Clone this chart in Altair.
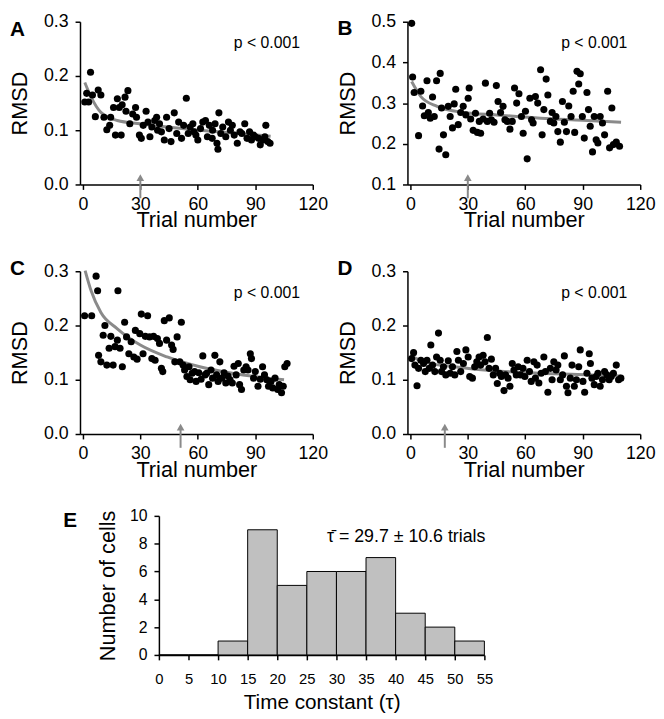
import altair as alt
import pandas as pd

FONT = "Liberation Sans"

# ---------------- Panel A ----------------
a_x = [1, 2, 3, 4, 5, 6.5, 8, 9.4, 11, 12.5, 14, 14.5, 16, 17, 18, 19, 20, 20.5, 22, 22.5,
       23.5, 24.5, 26, 27.5, 28, 29.5, 30.5, 31.5, 33, 34, 35, 36, 37.5, 38.5, 40, 41, 42.5,
       43.7, 45, 46, 47.7, 49, 50, 51.5, 52.6, 54, 55, 56, 57.4, 59, 60, 61.4, 62.6, 64, 65,
       66, 67.7, 69, 70, 70.5, 71, 72, 73, 74.6, 76, 77, 78, 79, 80.6, 82, 83, 84.5, 85.7, 87,
       88, 89, 90, 91.7, 92.6, 94, 95, 95.5, 96.5, 97.7, 67.5, 39, 58]
a_y = [0.152, 0.168, 0.152, 0.207, 0.165, 0.125, 0.174, 0.165, 0.124, 0.101, 0.109, 0.124,
       0.142, 0.091, 0.158, 0.142, 0.091, 0.147, 0.161, 0.135, 0.173, 0.112, 0.130, 0.142,
       0.124, 0.091, 0.085, 0.109, 0.135, 0.115, 0.088, 0.106, 0.118, 0.124, 0.112, 0.097,
       0.082, 0.124, 0.103, 0.079, 0.132, 0.094, 0.115, 0.085, 0.109, 0.159, 0.094, 0.106,
       0.112, 0.091, 0.082, 0.103, 0.115, 0.118, 0.088, 0.109, 0.100, 0.112, 0.076, 0.065,
       0.132, 0.094, 0.106, 0.088, 0.115, 0.100, 0.109, 0.091, 0.076, 0.097, 0.094, 0.112,
       0.085, 0.097, 0.082, 0.091, 0.088, 0.085, 0.073, 0.082, 0.088, 0.109, 0.079, 0.076,
       0.085, 0.100, 0.097]
a_cx = [1, 4.3, 9.4, 18, 30, 44, 61, 78, 98]
a_cy = [0.188, 0.161, 0.133, 0.118, 0.112, 0.106, 0.100, 0.095, 0.089]

# ---------------- Panel B ----------------
b_x = [0.7, 1.2, 2, 4.3, 5.5, 6.4, 7.3, 8.7, 9.4, 10.4, 11.6, 12.5, 13.7, 15, 15.6, 16.3,
       17.3, 18.5, 19.8, 20.8, 22, 22.9, 23.7, 25, 26.3, 27.6, 29, 30.2, 30.7, 31.5, 32.8,
       34, 35, 36, 36.7, 38, 39.2, 40.2, 41.4, 42.3, 43.7, 44.9, 45.8, 47.1, 48.4, 49.4,
       50.6, 52, 53.2, 54.4, 55.5, 56.7, 58, 58.9, 60.1, 61, 62.4, 63.3, 64.1, 65.3, 66.5,
       68, 68.8, 69.7, 70.9, 71.8, 73.1, 74, 74.9, 76, 77, 78.3, 79.4, 80.4, 81.5, 82.7,
       83.9, 85, 85.8, 87, 87.9, 88.7, 89.8, 90.8, 92.2, 93, 93.9, 95.1, 96, 97, 97.9, 99.1,
       100.3, 101.4, 103, 104, 105.2, 106, 107.5, 109.2]
b_y = [0.496, 0.364, 0.326, 0.220, 0.329, 0.293, 0.269, 0.355, 0.277, 0.263, 0.315, 0.267,
       0.355, 0.187, 0.373, 0.288, 0.222, 0.173, 0.292, 0.267, 0.239, 0.298, 0.334, 0.247,
       0.277, 0.292, 0.271, 0.312, 0.337, 0.261, 0.233, 0.275, 0.228, 0.255, 0.226, 0.261,
       0.349, 0.255, 0.275, 0.259, 0.253, 0.343, 0.304, 0.277, 0.292, 0.259, 0.255, 0.236,
       0.255, 0.337, 0.300, 0.323, 0.267, 0.226, 0.280, 0.163, 0.312, 0.259, 0.251, 0.316,
       0.300, 0.382, 0.222, 0.284, 0.359, 0.320, 0.255, 0.277, 0.251, 0.267, 0.230, 0.204,
       0.304, 0.253, 0.230, 0.293, 0.267, 0.329, 0.228, 0.378, 0.347, 0.372, 0.267, 0.214,
       0.326, 0.284, 0.243, 0.180, 0.267, 0.210, 0.202, 0.267, 0.251, 0.222, 0.329, 0.190,
       0.288, 0.198, 0.204, 0.194]
b_cx = [0.7, 5.5, 14, 28, 45, 68, 90, 110]
b_cy = [0.353, 0.316, 0.292, 0.277, 0.271, 0.263, 0.258, 0.253]

# ---------------- Panel C ----------------
c_x = [0.9, 4.6, 6.9, 7.7, 8.2, 9.4, 10.6, 11.5, 12.5, 13.7, 14.6, 15.8, 16.8, 18, 18.3,
       19.4, 20.6, 21.8, 22.8, 24, 25.2, 26.6, 27.4, 28.3, 29.7, 30.5, 31.4, 32.6, 33.8,
       34.8, 36, 36.9, 37.7, 38.9, 40, 41, 41.7, 42.5, 43.7, 45.1, 46.3, 47.1, 48, 49.2,
       51.4, 50.6, 52.3, 53.1, 54.3, 55.4, 56, 57, 58.3, 59.1, 60.5, 61.7, 62.6, 63.8, 64.6,
       65.7, 66.9, 67.7, 68.9, 69.8, 70.6, 71.5, 72.5, 73.7, 74.6, 75.8, 76.8, 78, 78.9, 80,
       81.1, 81.8, 82.8, 84, 85.2, 86.2, 87.4, 88, 89.1, 90, 91.4, 92.6, 93.8, 94.8, 96,
       96.9, 98.2, 99.1, 100.3, 101.7, 102.5, 103.7, 104.6, 105.4, 106.6]
c_y = [0.218, 0.218, 0.291, 0.264, 0.145, 0.133, 0.182, 0.200, 0.127, 0.158, 0.180, 0.127,
       0.161, 0.173, 0.264, 0.158, 0.124, 0.206, 0.179, 0.148, 0.170, 0.142, 0.191, 0.138,
       0.185, 0.221, 0.148, 0.180, 0.218, 0.179, 0.139, 0.180, 0.136, 0.176, 0.167, 0.121,
       0.115, 0.209, 0.173, 0.214, 0.164, 0.156, 0.133, 0.179, 0.206, 0.133, 0.127, 0.118,
       0.106, 0.124, 0.100, 0.112, 0.115, 0.097, 0.113, 0.101, 0.144, 0.109, 0.112, 0.091,
       0.118, 0.103, 0.145, 0.109, 0.097, 0.133, 0.103, 0.113, 0.094, 0.107, 0.100, 0.094,
       0.125, 0.109, 0.130, 0.091, 0.082, 0.118, 0.124, 0.118, 0.148, 0.139, 0.103, 0.115,
       0.088, 0.101, 0.124, 0.109, 0.100, 0.088, 0.097, 0.085, 0.103, 0.082, 0.091, 0.076,
       0.088, 0.124, 0.130]
c_cx = [1.2, 4.3, 9.4, 18, 30, 44, 61, 78, 105]
c_cy = [0.301, 0.264, 0.224, 0.194, 0.164, 0.142, 0.124, 0.112, 0.100]

# ---------------- Panel D ----------------
d_x = [0.7, 1.7, 2.4, 3.5, 4.3, 5.5, 6.9, 7.8, 8.7, 9.9, 10.7, 11.6, 12.8, 13.7, 14.7, 15.6,
       16.3, 17.3, 18.5, 19.8, 20.8, 22, 23.2, 24.3, 25.1, 26.3, 27.7, 29, 30.2, 31, 32.4,
       33.6, 34.7, 35.9, 36.7, 38, 39, 40.2, 41.1, 42.3, 43.3, 44.5, 45.4, 46.6, 47.5, 48.9,
       49.7, 51, 52, 53.2, 54.1, 55.3, 56.3, 57.5, 58.8, 59.8, 61, 62.2, 63.1, 64.5, 65.3,
       66.2, 67.1, 68.3, 69.7, 70.5, 71.8, 73.1, 74, 74.9, 76.1, 77, 78.3, 79.5, 80.4, 81.5,
       82.3, 83.5, 84.4, 85.6, 86.7, 87.9, 88.7, 90.1, 91, 92.2, 93.4, 94, 94.8, 96, 97,
       97.9, 99.1, 100.3, 101.4, 102.6, 103.8, 104.9, 106, 107.5, 108.7, 109.9]
d_y = [0.139, 0.150, 0.127, 0.089, 0.121, 0.136, 0.130, 0.115, 0.136, 0.121, 0.164, 0.127,
       0.115, 0.142, 0.186, 0.136, 0.115, 0.124, 0.109, 0.135, 0.112, 0.124, 0.109, 0.152,
       0.136, 0.115, 0.130, 0.155, 0.142, 0.106, 0.103, 0.124, 0.133, 0.142, 0.127, 0.145,
       0.133, 0.178, 0.121, 0.138, 0.109, 0.121, 0.093, 0.112, 0.106, 0.080, 0.109, 0.103,
       0.088, 0.130, 0.118, 0.109, 0.124, 0.109, 0.121, 0.106, 0.136, 0.115, 0.097, 0.133,
       0.103, 0.127, 0.094, 0.112, 0.142, 0.115, 0.077, 0.121, 0.100, 0.133, 0.118, 0.127,
       0.100, 0.109, 0.144, 0.088, 0.076, 0.103, 0.127, 0.088, 0.100, 0.124, 0.155, 0.097,
       0.077, 0.112, 0.148, 0.130, 0.103, 0.091, 0.106, 0.112, 0.088, 0.100, 0.115, 0.109,
       0.100, 0.106, 0.112, 0.127, 0.100, 0.103]
d_cx = [0, 7, 25, 42, 68, 94, 110]
d_cy = [0.145, 0.133, 0.123, 0.117, 0.112, 0.109, 0.107]

# ---------------- Panel E (histogram) ----------------
bin_start = [0, 5, 10, 15, 20, 25, 30, 35, 40, 45, 50]
bin_end = [5, 10, 15, 20, 25, 30, 35, 40, 45, 50, 55]
cell_counts = [0, 0, 1, 9, 5, 6, 6, 7, 3, 2, 1]
e_ticks = [0, 5, 10, 15, 20, 25, 30, 35, 40, 45, 50, 55]
e_yticks = [0, 2, 4, 6, 8, 10]
e_note = "τ\u0304 = 29.7 ± 10.6 trials"

arrow_at = {"A": 30, "B": 30, "C": 51, "D": 18}
p_text = "p < 0.001"
trial_ticks = [0, 30, 60, 90, 120]

W, H = 236, 165
GREY = "#8a8a8a"


def panel(letter, xs, ys, cx, cy, ydom, yticks, letter_y):
    xsc = alt.Scale(domain=[-1.5, 120], nice=False, zero=False)
    ysc = alt.Scale(domain=ydom, nice=False, zero=False)
    xax = alt.Axis(values=trial_ticks, title="Trial number", format="d",
                   labelPadding=6, titlePadding=-3, titleFontSize=22)
    yax = alt.Axis(values=yticks, title="RMSD", format=".1f",
                   labelPadding=7, titlePadding=12, titleFontSize=22)
    pts = pd.DataFrame({"x": xs, "y": ys})
    cur = pd.DataFrame({"x": cx, "y": cy})
    base_x = alt.X("x:Q", scale=xsc, axis=xax)
    base_y = alt.Y("y:Q", scale=ysc, axis=yax)
    points = alt.Chart(pts).mark_circle(size=52, color="black", opacity=1).encode(
        x=base_x, y=base_y)
    curve = alt.Chart(cur).mark_line(color=GREY, strokeWidth=3, interpolate="monotone").encode(
        x=base_x, y=base_y)
    adf = pd.DataFrame({"x": [arrow_at[letter]]})
    shaft = alt.Chart(adf).mark_rule(color=GREY, strokeWidth=2).encode(
        x=alt.X("x:Q", scale=xsc, axis=xax), y=alt.value(H - 6), y2=alt.value(H + 14))
    head = alt.Chart(adf).mark_point(shape="triangle-up", filled=True, size=60,
                                      color=GREY, opacity=1).encode(
        x=alt.X("x:Q", scale=xsc, axis=xax), y=alt.value(H - 7))
    ptxt = alt.Chart(pd.DataFrame({"t": [p_text]})).mark_text(
        align="right", baseline="middle", fontSize=16, font=FONT, color="black").encode(
        x=alt.value(223), y=alt.value(22), text="t:N")
    ltxt = alt.Chart(pd.DataFrame({"t": [letter]})).mark_text(
        align="left", baseline="alphabetic", fontSize=21, fontWeight="bold",
        font=FONT, color="black").encode(
        x=alt.value(-71), y=alt.value(letter_y), text="t:N")
    return alt.layer(curve, points, shaft, head, ptxt, ltxt).properties(width=W, height=H)


pA = panel("A", a_x, a_y, a_cx, a_cy, [0, 0.3], [0, 0.1, 0.2, 0.3], 14)
pB = panel("B", b_x, b_y, b_cx, b_cy, [0.1, 0.5], [0.1, 0.2, 0.3, 0.4, 0.5], 13)
pC = panel("C", c_x, c_y, c_cx, c_cy, [0, 0.3], [0, 0.1, 0.2, 0.3], 4)
pD = panel("D", d_x, d_y, d_cx, d_cy, [0, 0.3], [0, 0.1, 0.2, 0.3], 4)

EW, EH = 330, 141
hist_df = pd.DataFrame({"s": bin_start, "e": bin_end, "n": cell_counts})
exs = alt.Scale(domain=[0, 55], nice=False)
eys = alt.Scale(domain=[0, 10], nice=False)
bars = alt.Chart(hist_df).mark_rect(fill="#c0c0c0", stroke="black", strokeWidth=1).encode(
    x=alt.X("s:Q", scale=exs, axis=alt.Axis(values=e_ticks, title="Time constant (τ)",
                                            labelPadding=12, titlePadding=5, titleFontSize=21,
                                            labelFontSize=15)),
    x2="e:Q",
    y=alt.Y("n:Q", scale=eys, axis=alt.Axis(values=e_yticks, title="Number of cells",
                                            labelPadding=7, titlePadding=10, titleFontSize=22,
                                            labelFontSize=16)),
    y2=alt.datum(0),
)
etxt = alt.Chart(pd.DataFrame({"t": [e_note]})).mark_text(
    align="right", baseline="middle", fontSize=18, font=FONT, color="black").encode(
    x=alt.value(331), y=alt.value(21), text="t:N")
eletter = alt.Chart(pd.DataFrame({"t": ["E"]})).mark_text(
    align="left", baseline="alphabetic", fontSize=21, fontWeight="bold",
    font=FONT, color="black").encode(x=alt.value(-97), y=alt.value(11), text="t:N")
pE = alt.layer(bars, etxt, eletter).properties(width=EW, height=EH)

# empty spacer that pushes panel E to the right
spacer = alt.Chart(pd.DataFrame({"a": [0]})).mark_point(opacity=0).encode(
    x=alt.value(0), y=alt.value(0)).properties(width=10, height=EH)

row1 = alt.hconcat(pA, pB, spacing=96, bounds="flush")
row2 = alt.hconcat(pC, pD, spacing=96, bounds="flush")
row3 = alt.hconcat(spacer, pE, spacing=70, bounds="flush")

chart = alt.vconcat(row1, row2, row3, spacing=28).properties(
    padding=0
).configure_view(stroke=None).configure_axis(
    grid=False, domainColor="black", tickColor="black", labelColor="black",
    titleColor="black", domainWidth=1.5, tickWidth=1.5, tickSize=5,
    labelFont=FONT, titleFont=FONT, labelFontSize=18, titleFontSize=22,
    titleFontWeight="normal", labelFlush=False
)

chart.save("out.html", embed_options={"renderer": "svg", "actions": False})
